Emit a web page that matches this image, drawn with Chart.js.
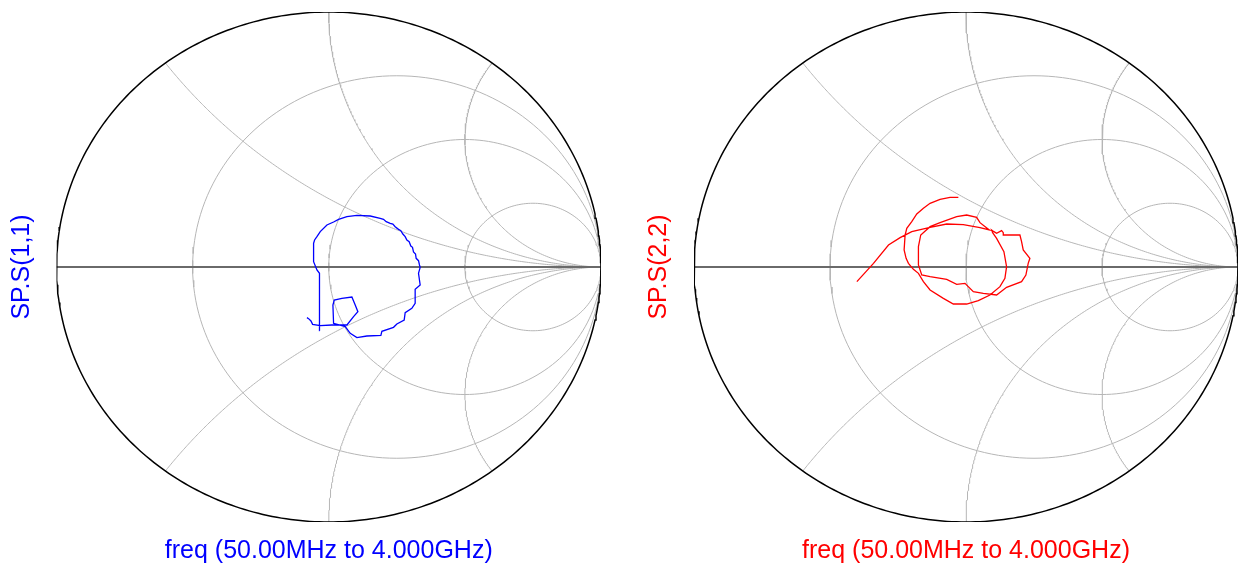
<!DOCTYPE html>
<html><head><meta charset="utf-8">
<script src="https://cdn.jsdelivr.net/npm/chart.js@4.4.1/dist/chart.umd.min.js"></script>
<style>
html,body{margin:0;padding:0;background:#fff;width:1246px;height:570px;overflow:hidden}
canvas{position:absolute;top:0}
</style></head><body>
<canvas id="left" width="623" height="570" style="left:0px;width:623px;height:570px"></canvas>
<canvas id="right" width="623" height="570" style="left:623px;width:623px;height:570px"></canvas>
<script>
// ---- data (reflection coefficient, real / imaginary) ----
const s11Real = [-0.0336,-0.0336,-0.0336,-0.0349,-0.0434,-0.0557,-0.0557,-0.052,-0.0434,-0.0312,-0.0067,0.0177,0.0361,0.0667,0.1034,0.1523,0.189,0.2012,0.211,0.2257,0.2355,0.244,0.2563,0.2648,0.2722,0.2807,0.2869,0.2954,0.3015,0.3076,0.3113,0.3187,0.3211,0.3297,0.3333,0.3358,0.3297,0.3358,0.3174,0.3174,0.3052,0.2807,0.2771,0.2502,0.2379,0.1951,0.1915,0.1401,0.1034,0.0789,0.0606,0.0177,0.0153,0.0202,0.0483,0.085,0.0972,0.107,0.0911,0.0667,0.0483,0.0116,-0.0312,-0.0593,-0.0654,-0.074,-0.0801];
const s11Imag = [-0.2497,-0.1686,-0.0902,-0.0248,-0.0118,0.0209,0.0928,0.1059,0.1189,0.1386,0.1647,0.1765,0.1869,0.1974,0.2026,0.2,0.1909,0.1869,0.1778,0.1712,0.1686,0.1582,0.1477,0.1425,0.1294,0.1189,0.1059,0.0993,0.0824,0.0771,0.0588,0.051,0.034,0.0248,0.0078,-0.0013,-0.0248,-0.0706,-0.0876,-0.1425,-0.1621,-0.1791,-0.2078,-0.2235,-0.2366,-0.2523,-0.268,-0.2706,-0.2771,-0.2601,-0.234,-0.2209,-0.149,-0.1294,-0.1229,-0.1176,-0.149,-0.1752,-0.1948,-0.2275,-0.2275,-0.2275,-0.2301,-0.2248,-0.2118,-0.2026,-0.1987];

const s22Real = [-0.0281,-0.0587,-0.0954,-0.1321,-0.1566,-0.181,-0.1994,-0.2177,-0.2239,-0.2275,-0.2202,-0.2116,-0.1933,-0.1749,-0.1566,-0.1321,-0.0832,-0.0465,0.0024,0.0453,0.0881,0.1248,0.1431,0.1492,0.1394,0.1125,0.0979,0.0942,0.1028,0.1125,0.1309,0.137,0.137,0.1982,0.2043,0.2104,0.2349,0.2287,0.2202,0.2043,0.1492,0.1125,0.0636,0.0269,-0.0037,-0.0342,-0.0709,-0.1321,-0.1627,-0.1749,-0.1749,-0.1664,-0.1321,-0.0954,-0.0342,0.0024,0.0392,0.0514,0.0856,0.0514,-0.0098,-0.0709,-0.1321,-0.1994,-0.2422,-0.285,-0.3401,-0.4012];
const s22Imag = [0.2732,0.2732,0.2654,0.2497,0.2301,0.2078,0.1778,0.1516,0.1255,0.0667,0.034,0.0144,-0.0092,-0.0248,-0.0575,-0.0902,-0.1229,-0.1451,-0.1451,-0.132,-0.1098,-0.0771,-0.0444,0.0013,0.0601,0.1124,0.1346,0.1451,0.1386,0.132,0.1425,0.1346,0.1255,0.1255,0.0993,0.0667,0.034,0.0144,-0.0314,-0.0575,-0.0797,-0.1098,-0.1033,-0.0967,-0.064,-0.068,-0.0484,-0.0379,-0.0314,0.0078,0.0797,0.1255,0.1582,0.1738,0.1974,0.2039,0.1948,0.1738,0.1451,0.1542,0.166,0.1686,0.1556,0.1386,0.115,0.0863,0.0144,-0.0575];

// ---- Smith grid values ----
const gridResistance = [1/3, 1, 3];
const gridReactance = [0.5, 1, 2, -0.5, -1, -2];
const xTitleText = 'freq (50.00MHz to 4.000GHz)';
const leftTitle = 'SP.S(1,1)';
const rightTitle = 'SP.S(2,2)';

function pts(re, im){ return re.map((v,i)=>({x:v, y:im[i]})); }
function gamma(r, x){ const d=(r+1)*(r+1)+x*x; return {x:(r*r+x*x-1)/d, y:(2*x)/d}; }
function resCircle(r){ const c=r/(1+r), p=1/(1+r), out=[]; for(let i=0;i<=180;i++){const t=i/180*2*Math.PI; out.push({x:c+p*Math.cos(t), y:p*Math.sin(t)});} return out; }
function reactArc(x){ const out=[]; for(let i=0;i<=240;i++){const t=i/240*0.9995; out.push(gamma(t/(1-t), x));} out.push({x:1,y:0}); return out; }
function unitCircle(){ const out=[]; for(let i=0;i<=360;i++){const t=i/360*2*Math.PI; out.push({x:Math.cos(t), y:Math.sin(t)});} return out; }

function makeChart(id, traceRe, traceIm, color, title, pad, yPadInner){
  const ds = [];
  ds.push({data:pts(traceRe, traceIm), borderColor:color, borderWidth:1.3, order:0});
  ds.push({data:unitCircle(), borderColor:'#000', borderWidth:1.5, order:1});
  ds.push({data:[{x:-1,y:0},{x:1,y:0}], borderColor:'#6a6a6a', borderWidth:1.8, order:2});
  gridResistance.forEach(r=>ds.push({data:resCircle(r), borderColor:'#b6b6b6', borderWidth:1, order:3}));
  gridReactance.forEach(x=>ds.push({data:reactArc(x), borderColor:'#b6b6b6', borderWidth:1, order:3}));
  ds.forEach(d=>{d.showLine=true; d.pointRadius=0; d.fill=false; d.tension=0;});
  const fnt = {family:'"Liberation Sans", Arial, sans-serif', size:25, lineHeight:1};
  return new Chart(document.getElementById(id), {
    type:'scatter',
    data:{datasets:ds},
    options:{
      responsive:false, animation:false, events:[],
      layout:{padding:pad},
      plugins:{legend:{display:false}, tooltip:{enabled:false}},
      scales:{
        x:{type:'linear', min:-1, max:1, ticks:{display:false}, grid:{display:false, drawTicks:false}, border:{display:false},
           title:{display:true, text:xTitleText, color:color, font:fnt, padding:{top:16.5, bottom:0}}},
        y:{type:'linear', min:-1, max:1, ticks:{display:false}, grid:{display:false, drawTicks:false}, border:{display:false},
           title:{display:true, text:title, color:color, font:fnt, padding:{top:0, bottom:yPadInner}}}
      }
    }
  });
}
makeChart('left', s11Real, s11Imag, '#0000ff', leftTitle, {left:9.5, right:22, top:12, bottom:6.5}, 22);
makeChart('right', s22Real, s22Imag, '#ff0000', rightTitle, {left:23.5, right:8, top:12, bottom:6.5}, 22.5);
</script>
</body></html>
